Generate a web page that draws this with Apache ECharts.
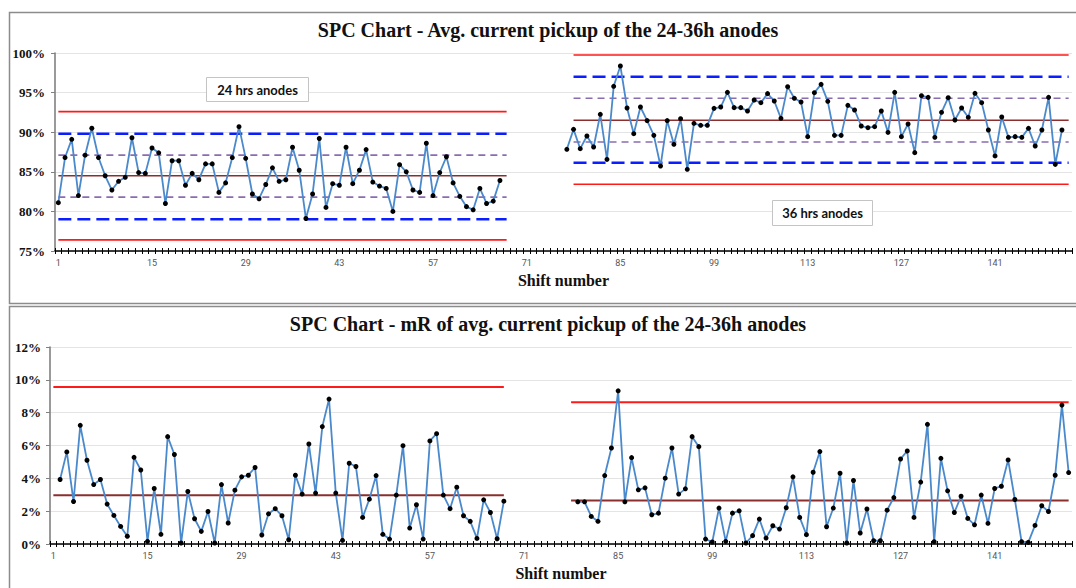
<!DOCTYPE html>
<html><head><meta charset="utf-8">
<script src="https://cdn.jsdelivr.net/npm/echarts@6/dist/echarts.min.js"></script>
<style>html,body{margin:0;padding:0;background:#fff;}#c{width:1076px;height:588px;}</style>
</head><body><div id="c"></div>
<script>
// ---------- DATA ----------
const shiftCount = 152;
const shifts = Array.from({length: shiftCount}, (_, i) => String(i + 1));

// Avg. current pickup (%) — 24 h anodes, shifts 1..67
const avg24Start = 1;
const avg24 = [81.1,86.8,89.1,82.0,87.1,90.5,86.8,84.5,82.7,83.8,84.3,89.3,84.9,84.8,88.0,87.4,81.0,86.4,86.4,83.3,
  84.8,84.0,86.0,86.0,82.4,83.6,86.8,90.7,86.7,82.2,81.6,83.4,85.5,83.8,84.0,88.1,85.2,79.1,82.2,89.2,
  80.5,83.5,83.3,88.1,83.5,85.2,87.8,83.7,83.2,82.9,80.0,85.9,85.0,82.7,82.4,88.6,82.0,84.9,86.9,83.6,
  81.9,80.6,80.2,82.9,81.0,81.3,83.9];
// 36 h anodes, shifts 77..151
const avg36Start = 77;
const avg36 = [87.84,90.36,87.92,89.52,88.13,92.26,86.57,95.79,98.36,93.06,89.81,93.18,91.46,89.6,85.73,91.46,88.47,91.71,85.31,91.12,
  90.87,90.87,93.01,93.18,95.03,93.1,93.1,92.68,94.07,93.73,94.87,93.94,91.75,95.75,94.28,93.81,89.44,94.99,96.04,93.9,
  89.6,89.6,93.39,92.8,90.78,90.57,90.7,92.68,89.98,95.03,89.44,91.04,87.42,94.61,94.4,89.35,92.51,94.36,91.54,93.06,
  91.88,94.91,93.73,90.28,87.0,91.92,89.35,89.44,89.35,90.49,88.26,90.28,94.4,85.94,90.28];

// Control limits (avg chart)
const limits24Range = [1, 68];
const limits36Range = [78, 152];
const ucl24 = 92.6, up2s24 = 89.8, up1s24 = 87.1, cl24 = 84.5, lo1s24 = 81.8, lo2s24 = 79.0, lcl24 = 76.4;
const ucl36 = 99.75, up2s36 = 97.0, up1s36 = 94.28, cl36 = 91.5, lo1s36 = 88.76, lo2s36 = 86.15, lcl36 = 83.42;

// Moving range (%) — plotted from these shift positions
const mr24Start = 2;
const mr24 = [3.93,5.61,2.59,7.23,5.10,3.62,3.93,2.43,1.74,1.07,0.47,5.28,4.51,0.16,3.38,0.59,6.54,5.45,0.06,3.20,
  1.54,0.77,1.98,0.06,3.62,1.28,3.28,4.09,4.19,4.66,0.55,1.84,2.15,1.72,0.26,4.19,3.04,6.09,3.10,7.15,
  8.83,3.10,0.22,4.92,4.72,1.62,2.73,4.17,0.59,0.30,2.98,5.99,0.97,2.39,0.30,6.28,6.72,2.98,2.15,3.46,
  1.72,1.38,0.34,2.69,1.92,0.32,2.61];
const mr36Start = 79;
const mr36 = [2.57,2.57,1.68,1.38,4.17,5.85,9.33,2.57,5.26,3.30,3.42,1.78,1.88,4.01,5.85,3.04,3.36,6.54,5.93,0.30,
  0.12,2.19,0.16,1.88,2.02,0.06,0.51,1.52,0.36,1.11,0.91,2.21,4.09,1.62,0.57,4.37,5.63,1.05,2.19,4.31,
  0.06,3.87,0.67,2.13,0.2,0.2,2.06,2.83,5.18,5.67,1.62,3.77,7.29,0.14,5.22,3.24,1.92,2.91,1.56,1.17,
  2.98,1.26,3.38,3.52,5.12,2.71,0.14,0.1,1.13,2.33,1.98,4.19,8.46,4.35];
const mrUcl24 = 9.57, mrCl24 = 2.97;
const mrUcl36 = 8.64, mrCl36 = 2.65;

const yTicksTop = [75, 100, 5];
const yTicksBottom = [0, 12, 2];

// ---------- BUILD ----------
const pairs = (start, arr) => arr.map((v, i) => [String(start + i), v]);
const span = (range, v) => [[String(range[0]), v], [String(range[1]), v]];

const BLUE = '#4a89cc';
function dataSeries(xi, yi, data) {
  return {type: 'line', xAxisIndex: xi, yAxisIndex: yi, data, symbol: 'circle', symbolSize: 5,
    showSymbol: true, showAllSymbol: true,
    itemStyle: {color: '#000'}, lineStyle: {color: BLUE, width: 1.8}, z: 10, animation: false};
}
function limitSeries(xi, yi, data, color, width, type) {
  return {type: 'line', xAxisIndex: xi, yAxisIndex: yi, data, showSymbol: false, symbol: 'none',
    lineStyle: {color, width, type}, z: 5, animation: false, silent: true};
}
const RED = '#ff1a1a', DBLUE = '#0a1eff', PURPLE = '#8a6cb0', BROWN = '#8a2e2e';

const series = [];
[[limits24Range, [ucl24, up2s24, up1s24, cl24, lo1s24, lo2s24, lcl24]],
 [limits36Range, [ucl36, up2s36, up1s36, cl36, lo1s36, lo2s36, lcl36]]].forEach(([rg, L]) => {
  series.push(limitSeries(0, 0, span(rg, L[0]), RED, 1.6, 'solid'));
  series.push(limitSeries(0, 0, span(rg, L[1]), DBLUE, 2.6, [13, 6]));
  series.push(limitSeries(0, 0, span(rg, L[2]), PURPLE, 1.6, [7, 5]));
  series.push(limitSeries(0, 0, span(rg, L[3]), BROWN, 1.6, 'solid'));
  series.push(limitSeries(0, 0, span(rg, L[4]), PURPLE, 1.6, [7, 5]));
  series.push(limitSeries(0, 0, span(rg, L[5]), DBLUE, 2.6, [13, 6]));
  series.push(limitSeries(0, 0, span(rg, L[6]), RED, 1.6, 'solid'));
});
series.push(limitSeries(2, 1, span(limits24Range, mrUcl24), RED, 2, 'solid'));
series.push(limitSeries(2, 1, span(limits24Range, mrCl24), BROWN, 2, 'solid'));
series.push(limitSeries(2, 1, span(limits36Range, mrUcl36), RED, 2, 'solid'));
series.push(limitSeries(2, 1, span(limits36Range, mrCl36), BROWN, 2, 'solid'));
series.push(dataSeries(0, 0, pairs(avg24Start, avg24)));
series.push(dataSeries(0, 0, pairs(avg36Start, avg36)));
series.push(dataSeries(2, 1, pairs(mr24Start, mr24)));
series.push(dataSeries(2, 1, pairs(mr36Start, mr36)));

const SERIF = '"Liberation Serif","Times New Roman",serif';
function xMain(grid, nameGap) {
  return {type: 'category', gridIndex: grid, data: shifts, boundaryGap: true, position: 'bottom',
    axisLine: {lineStyle: {color: '#000', width: 1.6}},
    axisTick: {show: true, interval: 0, length: 3, inside: false, lineStyle: {color: '#000', width: 1}},
    axisLabel: {interval: 13, fontSize: 9, color: '#555', margin: 7, fontFamily: 'Roboto, sans-serif'},
    name: 'Shift number', nameLocation: 'middle', nameGap,
    nameTextStyle: {fontFamily: SERIF, fontWeight: 'bold', fontSize: 16, color: '#111'},
    splitLine: {show: false}};
}
function xInner(grid) {
  return {type: 'category', gridIndex: grid, data: shifts, boundaryGap: true, position: 'bottom',
    axisLine: {show: false},
    axisTick: {show: true, interval: 0, length: 3, inside: true, lineStyle: {color: '#000', width: 1}},
    axisLabel: {show: false}, splitLine: {show: false}};
}
function yAx(grid, t, margin) {
  return {type: 'value', gridIndex: grid, min: t[0], max: t[1], interval: t[2],
    axisLine: {show: true, lineStyle: {color: '#808080', width: 1.6}},
    axisTick: {show: true, length: 4, lineStyle: {color: '#808080'}},
    axisLabel: {formatter: '{value}%', fontFamily: SERIF, fontWeight: 'bold', fontSize: 13, color: '#111', margin},
    splitLine: {show: true, lineStyle: {color: '#e4e4e4', width: 1}}};
}

function textBox(left, top, w, h, label) {
  return {type: 'group', left, top, z: 100, zlevel: 0, silent: true, children: [
    {type: 'rect', z: 100, shape: {x: 0, y: 0, width: w, height: h},
      style: {fill: '#ffffff', stroke: '#c4c4c4', lineWidth: 1}},
    {type: 'text', z: 101, style: {text: label, x: w / 2, y: h / 2, align: 'center', verticalAlign: 'middle',
      font: 'bold 13px Lato, "Open Sans", sans-serif', fill: '#111'}}
  ]};
}

const option = {
  animation: false,
  backgroundColor: '#fff',
  title: [
    {text: 'SPC Chart - Avg. current pickup of the 24-36h anodes', left: 548, top: 20, textAlign: 'center', padding: 0,
      textStyle: {fontFamily: SERIF, fontWeight: 'bold', fontSize: 20, color: '#111'}},
    {text: 'SPC Chart - mR of avg. current pickup of the 24-36h anodes', left: 548, top: 314, textAlign: 'center', padding: 0,
      textStyle: {fontFamily: SERIF, fontWeight: 'bold', fontSize: 20, color: '#111'}}
  ],
  grid: [
    {left: 55, top: 53, width: 1017, height: 198},
    {left: 50, top: 347, width: 1022, height: 197}
  ],
  xAxis: [xMain(0, 21), xInner(0), xMain(1, 21), xInner(1)],
  yAxis: [yAx(0, yTicksTop, 10), yAx(1, yTicksBottom, 9)],
  graphic: [
    {type: 'rect', left: 7, top: 10, shape: {width: 1100, height: 291}, silent: true, z: -10,
      style: {fill: 'none', stroke: '#8c8c8c', lineWidth: 1.5}},
    {type: 'rect', left: 7, top: 304, shape: {width: 1100, height: 300}, silent: true, z: -10,
      style: {fill: 'none', stroke: '#8c8c8c', lineWidth: 1.5}},
    textBox(206, 77, 102, 24, '24 hrs anodes'),
    textBox(772, 200, 100, 25, '36 hrs anodes')
  ],
  series
};
const chart = echarts.init(document.getElementById('c'), null, {renderer: 'svg', width: 1076, height: 588});
chart.setOption(option);
</script></body></html>
